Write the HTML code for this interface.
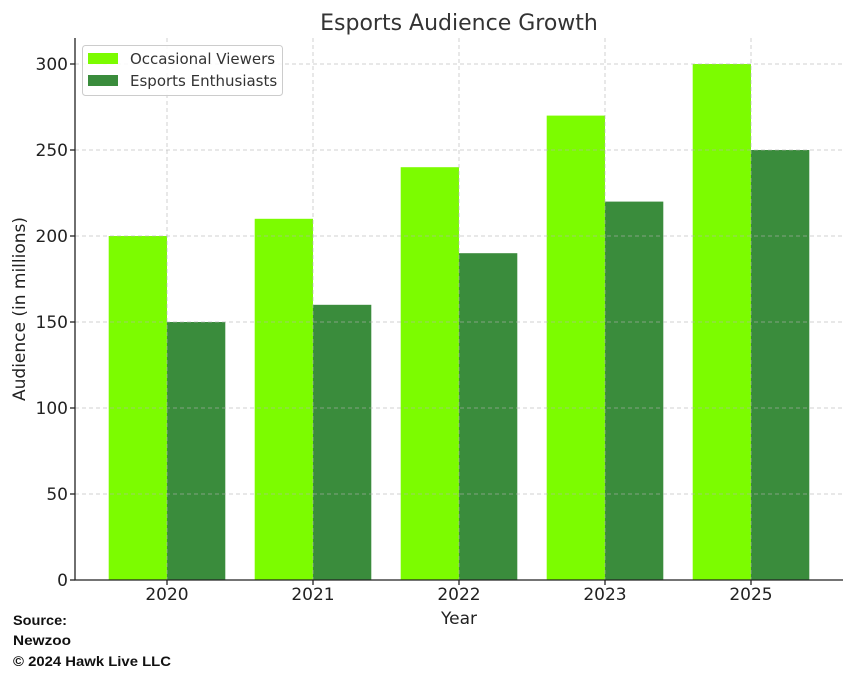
<!DOCTYPE html>
<html><head><meta charset="utf-8"><style>
html,body{margin:0;padding:0;background:#fff;width:854px;height:677px;overflow:hidden}
text{font-family:"DejaVu Sans","Liberation Sans",sans-serif}
text.src{font-family:"Liberation Sans",sans-serif}
</style></head><body>
<svg width="854" height="677" viewBox="0 0 854 677" xmlns="http://www.w3.org/2000/svg">
<rect width="854" height="677" fill="#fff"/>
<text x="459" y="30" font-size="22" fill="#333" text-anchor="middle">Esports Audience Growth</text>
<g>
<rect x="108.7" y="236" width="58.3" height="344" fill="#7CFC00"/>
<rect x="167" y="322" width="58.3" height="258" fill="#3A8C3C"/>
<rect x="254.7" y="218.8" width="58.3" height="361.2" fill="#7CFC00"/>
<rect x="313" y="304.8" width="58.3" height="275.2" fill="#3A8C3C"/>
<rect x="400.7" y="167.2" width="58.3" height="412.8" fill="#7CFC00"/>
<rect x="459" y="253.2" width="58.3" height="326.8" fill="#3A8C3C"/>
<rect x="546.7" y="115.6" width="58.3" height="464.4" fill="#7CFC00"/>
<rect x="605" y="201.6" width="58.3" height="378.4" fill="#3A8C3C"/>
<rect x="692.7" y="64" width="58.3" height="516" fill="#7CFC00"/>
<rect x="751" y="150" width="58.3" height="430" fill="#3A8C3C"/>
</g>
<g stroke="#b0b0b0" stroke-opacity="0.6" stroke-width="1" stroke-dasharray="4,3">
<line x1="75" x2="843" y1="494" y2="494"/>
<line x1="75" x2="843" y1="408" y2="408"/>
<line x1="75" x2="843" y1="322" y2="322"/>
<line x1="75" x2="843" y1="236" y2="236"/>
<line x1="75" x2="843" y1="150" y2="150"/>
<line x1="75" x2="843" y1="64" y2="64"/>
<line x1="167" x2="167" y1="38" y2="580"/>
<line x1="313" x2="313" y1="38" y2="580"/>
<line x1="459" x2="459" y1="38" y2="580"/>
<line x1="605" x2="605" y1="38" y2="580"/>
<line x1="751" x2="751" y1="38" y2="580"/>
</g>
<g stroke="#222" stroke-width="1.3">
<line x1="75" y1="38" x2="75" y2="580.5"/>
<line x1="74.5" y1="580" x2="843" y2="580"/>
<line x1="70" x2="75" y1="580" y2="580"/><line x1="70" x2="75" y1="494" y2="494"/>
<line x1="70" x2="75" y1="408" y2="408"/><line x1="70" x2="75" y1="322" y2="322"/>
<line x1="70" x2="75" y1="236" y2="236"/><line x1="70" x2="75" y1="150" y2="150"/>
<line x1="70" x2="75" y1="64" y2="64"/>
<line x1="167" x2="167" y1="580" y2="585"/><line x1="313" x2="313" y1="580" y2="585"/>
<line x1="459" x2="459" y1="580" y2="585"/><line x1="605" x2="605" y1="580" y2="585"/>
<line x1="751" x2="751" y1="580" y2="585"/>
</g>
<g font-size="17" fill="#222" text-anchor="end">
<text x="68" y="586">0</text><text x="68" y="500">50</text><text x="68" y="414">100</text>
<text x="68" y="328">150</text><text x="68" y="242">200</text><text x="68" y="156">250</text>
<text x="68" y="70">300</text>
</g>
<g font-size="17" fill="#222" text-anchor="middle">
<text x="167" y="600">2020</text><text x="313" y="600">2021</text><text x="459" y="600">2022</text>
<text x="605" y="600">2023</text><text x="751" y="600">2025</text>
<text x="459" y="624" font-size="17">Year</text>
<text transform="translate(25,309) rotate(-90)" font-size="17">Audience (in millions)</text>
</g>
<rect x="82.5" y="45.5" width="200" height="50" rx="3" fill="#fff" fill-opacity="0.85" stroke="#ccc"/>
<rect x="88" y="53" width="30" height="11" fill="#7CFC00"/>
<rect x="88" y="75" width="30" height="11" fill="#3A8C3C"/>
<g font-size="15" fill="#333">
<text x="130" y="64">Occasional Viewers</text>
<text x="130" y="86">Esports Enthusiasts</text>
</g>
<g font-size="14" font-weight="bold" fill="#111">
<text class="src" x="13" y="625" textLength="54" lengthAdjust="spacingAndGlyphs">Source:</text>
<text class="src" x="13" y="645" textLength="58" lengthAdjust="spacingAndGlyphs">Newzoo</text>
<text class="src" x="13" y="666" textLength="158" lengthAdjust="spacingAndGlyphs">© 2024 Hawk Live LLC</text>
</g>
</svg>
</body></html>
